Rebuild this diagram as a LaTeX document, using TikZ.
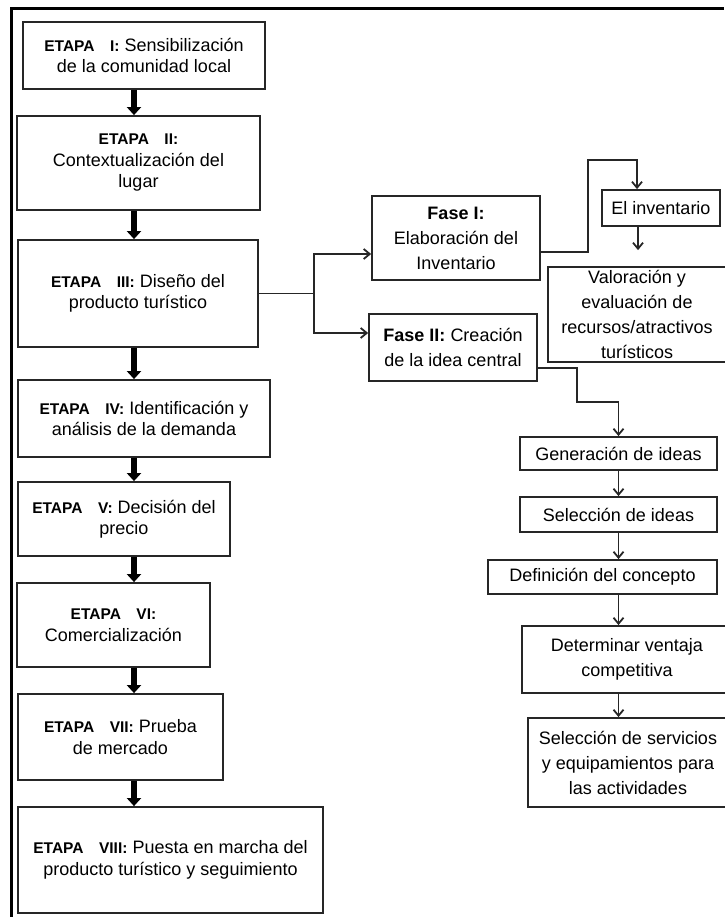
\documentclass[tikz,border=0pt]{standalone}
\usepackage{fontspec}
\setmainfont{Liberation Sans}
\usetikzlibrary{arrows.meta}
\newcommand{\etapa}[1]{{\fontsize{15.5}{21}\selectfont\bfseries ETAPA\quad #1:}}
\newcommand{\fase}[1]{\textbf{Fase #1:}}
\begin{document}
\begin{tikzpicture}[x=1pt,y=-1pt,
	caja/.style={draw=black!85,line width=1.8pt,inner sep=0pt,align=center,font=\fontsize{18}{21.5}\selectfont},
	cajad/.style={caja,font=\fontsize{18}{25}\selectfont},
	flechagruesa/.style={line width=5.5pt,-{Triangle[width=14pt,length=8pt]}},
	flecha/.style={line width=1.8pt,black!85,-{Straight Barb[length=6pt,width=10pt]}}]
	\useasboundingbox (0,0) rectangle (724,917);
	\draw[line width=3pt] (11.5,917) -- (11.5,8.5) -- (724,8.5);
	\path (134,0) coordinate (eje);
	% etapas
	\foreach \n/\x/\y/\w/\h/\t in {
		e1/144/55.5/242/67/{\etapa{I} Sensibilización\\de la comunidad local},
		e2/138.5/163/243/94/{\etapa{II}\\Contextualización del\\lugar},
		e3/138/293.5/240/107/{\etapa{III} Diseño del\\producto turístico},
		e4/144/418.5/252/77/{\etapa{IV} Identificación y\\análisis de la demanda},
		e5/124/519/212/74/{\etapa{V} Decisión del\\precio},
		e6/113.5/625/193/84/{\etapa{VI}\\Comercialización},
		e7/120.5/737/205/86/{\etapa{VII} Prueba\\de mercado},
		e8/170.5/860/305/106/{\etapa{VIII} Puesta en marcha del\\producto turístico y seguimiento}}
		\node[caja,minimum width=\w pt,minimum height=\h pt] (\n) at (\x,\y) {\t};
	\foreach \a/\b in {e1/e2,e2/e3,e3/e4,e4/e5,e5/e6,e6/e7,e7/e8}
		\draw[flechagruesa] (\a.south -| eje) -- (\b.north -| eje);
	% fases
	\foreach \n/\x/\y/\w/\h/\t in {
		f1/456/238/168/84/{\fase{I}\\Elaboración del\\Inventario},
		f2/453/347.5/168/67/{\fase{II} Creación\\de la idea central},
		inv/661/208/118/36/{El inventario},
		val/637/314.5/178/95/{Valoración y\\evaluación de\\recursos/atractivos\\turísticos},
		gen/618.5/453.5/197/33/{Generación de ideas},
		sel/618.5/514.5/197/35/{Selección de ideas},
		def/602.5/577/229/34/{Definición del concepto},
		det/627/659.5/210/67/{Determinar ventaja\\competitiva},
		ser/628/762.5/200/89/{Selección de servicios\\y equipamientos para\\las actividades}}
		\node[cajad,minimum width=\w pt,minimum height=\h pt] (\n) at (\x,\y) {\t};
	\draw[flecha] (e3.east) -- ++(55,0) coordinate (rama) |- ([yshift=-16pt]f1.west);
	\draw[flecha] (rama) |- ([yshift=14.5pt]f2.west);
	\draw[flecha] ([yshift=-14pt]f1.east) -- ++(47,0) -- ++(0,-92) -| ([xshift=-24pt]inv.north);
	\draw[flecha,shorten >=16pt] ([xshift=-23pt]inv.south) -- ([xshift=-23pt]inv.south |- val.north);
	\draw[flecha] ([yshift=-20.5pt]f2.east) -- ++(39,0) -- ++(0,34) -| (gen.north);
	\foreach \a/\b in {gen/sel,sel/def,def/det,det/ser}
		\draw[flecha] (\a.south -| gen.south) -- (\b.north -| gen.south);
\end{tikzpicture}
\end{document}
